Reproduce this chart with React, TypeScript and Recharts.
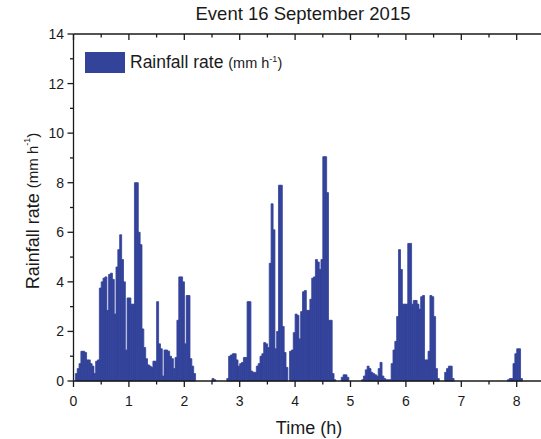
import { BarChart, Bar, XAxis, YAxis, Legend } from 'recharts';

const FONT = '"Liberation Sans", Arial, Helvetica, sans-serif';
const BAR = '#33439a';
const INK = '#1a1a1a';

// rainfall rate (mm h-1) in 2-minute bins, one array per hour of the event
const hour0 = [0, 0.3, 0.5, 0.7, 1.2, 1.2, 1.15, 0.85, 0.85, 0.7, 0.6, 0.3, 0.8, 0.85, 3.75, 4.0, 4.15, 4.2, 2.85, 4.3, 4.35, 4.1, 2.7, 4.6, 5.3, 5.9, 4.9, 4.0, 1.25, 3.35];
const hour1 = [3.35, 3.1, 3.1, 8.0, 8.0, 6.0, 5.5, 2.1, 1.35, 0.9, 0.65, 0.6, 0.55, 0.8, 0.8, 3.2, 1.5, 1.3, 0.2, 1.25, 1.25, 1.2, 1.0, 0.9, 0.5, 0.95, 2.45, 4.2, 4.2, 4.0];
const hour2 = [1.5, 3.45, 3.45, 0.9, 0.6, 0.3, 0, 0, 0, 0, 0, 0, 0, 0, 0, 0.1, 0.05, 0, 0, 0, 0, 0, 0, 0.1, 1.0, 1.05, 1.1, 1.1, 0.85, 0.6];
const hour3 = [0.7, 0.75, 0.95, 0.95, 3.2, 3.2, 0.4, 0.35, 0.35, 0.6, 0.7, 1.0, 1.1, 1.55, 1.5, 1.35, 4.75, 7.15, 6.1, 1.3, 2.0, 7.9, 7.9, 2.2, 1.15, 0.55, 0, 1.2, 1.25, 1.95];
const hour4 = [2.7, 2.65, 1.7, 2.8, 3.6, 3.65, 2.85, 2.85, 3.3, 4.15, 4.2, 4.9, 4.8, 4.5, 4.9, 9.05, 9.05, 7.6, 2.45, 2.45, 0.3, 0.05, 0, 0, 0, 0.15, 0.25, 0.25, 0.15, 0];
const hour5 = [0, 0, 0, 0, 0, 0, 0.05, 0.2, 0.45, 0.6, 0.5, 0.35, 0.3, 0.25, 0.2, 0.5, 0.75, 0.2, 0.1, 0.05, 0.05, 0.05, 0.7, 1.25, 1.6, 2.6, 5.3, 4.5, 3.1, 3.1];
const hour6 = [3.1, 5.55, 5.55, 3.1, 3.25, 3.25, 3.1, 2.9, 3.4, 3.45, 0.85, 0.85, 1.2, 3.45, 3.4, 2.6, 0.5, 0.1, 0, 0, 0, 0.35, 0.5, 0.6, 0.6, 0.1, 0, 0, 0, 0];
const hour7 = [0, 0, 0, 0, 0, 0, 0, 0, 0, 0, 0, 0, 0, 0, 0, 0, 0, 0, 0, 0, 0, 0, 0, 0, 0, 0.05, 0.1, 0.1, 0.7, 1.1];
const hour8 = [1.3, 1.3, 0.1, 0, 0, 0, 0, 0, 0, 0, 0, 0, 0, 0, 0];

const timeTicks = [0, 0.5, 1, 1.5, 2, 2.5, 3, 3.5, 4, 4.5, 5, 5.5, 6, 6.5, 7, 7.5, 8, 8.5];
const rateTicks = [0, 1, 2, 3, 4, 5, 6, 7, 8, 9, 10, 11, 12, 13, 14];

const BINS_PER_HOUR = 30;

// each bin carries its index (for the band axis) and its mid time in hours
const data = [...hour0, ...hour1, ...hour2, ...hour3, ...hour4, ...hour5, ...hour6, ...hour7, ...hour8].map(
  (rate, bin) => ({ bin, hour: (bin + 0.5) / BINS_PER_HOUR, rate })
);

const BottomTick = ({ x, y, payload }: any) => {
  const major = Number.isInteger(payload.value);
  return (
    <g>
      <line x1={x} x2={x} y1={y} y2={y + (major ? 6 : 3.5)} stroke={INK} strokeWidth={1.3} />
      {major && (
        <text x={x} y={y + 25} textAnchor="middle" fontSize={14} fill={INK} fontFamily={FONT}>
          {payload.value}
        </text>
      )}
    </g>
  );
};

const TopTick = ({ x, y, payload }: any) => {
  const major = Number.isInteger(payload.value);
  return <line x1={x} x2={x} y1={y} y2={y + (major ? 6 : 3.5)} stroke={INK} strokeWidth={1.3} />;
};

const LeftTick = ({ x, y, payload }: any) => {
  const major = payload.value % 2 === 0;
  return (
    <g>
      <line x1={x - (major ? 6 : 3.5)} x2={x} y1={y} y2={y} stroke={INK} strokeWidth={1.3} />
      {major && (
        <text x={x - 9.5} y={y + 5} textAnchor="end" fontSize={14} fill={INK} fontFamily={FONT}>
          {payload.value}
        </text>
      )}
    </g>
  );
};

const RightTick = ({ x, y, payload }: any) => {
  const major = payload.value % 2 === 0;
  return <line x1={x - (major ? 6 : 3.5)} x2={x} y1={y} y2={y} stroke={INK} strokeWidth={1.3} />;
};

const YTitle = () => (
  <text
    x={34}
    y={211}
    transform="rotate(-90 34 211)"
    textAnchor="middle"
    fill={INK}
    fontFamily={FONT}
    fontSize={18}
    dominantBaseline="middle"
  >
    Rainfall rate{' '}
    <tspan fontSize={15}>(mm h</tspan>
    <tspan fontSize={9} dy={-6}>-1</tspan>
    <tspan fontSize={15} dy={6}>)</tspan>
  </text>
);

const XTitle = () => (
  <text x={309} y={434} textAnchor="middle" fill={INK} fontFamily={FONT} fontSize={18}>
    Time (h)
  </text>
);

const LegendBox = () => (
  <div style={{ display: 'flex', alignItems: 'center', fontFamily: FONT, color: INK }}>
    <span style={{ width: 40, height: 21, background: BAR, display: 'inline-block' }} />
    <span style={{ marginLeft: 5, fontSize: 17.5, whiteSpace: 'nowrap' }}>
      Rainfall rate{' '}
      <span style={{ fontSize: 14.5 }}>
        (mm h<sup style={{ fontSize: 9 }}>-1</sup>)
      </span>
    </span>
  </div>
);

export default function App() {
  return (
    <div style={{ position: 'absolute', left: 0, top: 0, width: 541, height: 439, overflow: 'hidden', background: '#fff' }}>
      <div
        style={{
          position: 'absolute',
          top: 3,
          left: 0,
          width: 606,
          textAlign: 'center',
          fontFamily: FONT,
          fontSize: 18.5,
          color: INK,
        }}
      >
        Event 16 September 2015
      </div>
      <BarChart
        width={560}
        height={439}
        data={data}
        margin={{ top: 34, right: 15.6, left: 13.5, bottom: 28 }}
        barCategoryGap={0}
        barGap={0}
      >
        <XAxis xAxisId="bins" dataKey="bin" hide height={0} />
        <XAxis
          xAxisId="bottom"
          dataKey="hour"
          type="number"
          domain={[0, 8.5]}
          allowDataOverflow
          ticks={timeTicks}
          interval={0}
          height={30}
          tickSize={0}
          tickMargin={0}
          tickLine={false}
          axisLine={{ stroke: INK, strokeWidth: 1.3 }}
          tick={<BottomTick />}
          label={{ content: <XTitle /> }}
        />
        <XAxis
          xAxisId="top"
          dataKey="hour"
          orientation="top"
          mirror
          type="number"
          domain={[0, 8.5]}
          allowDataOverflow
          ticks={timeTicks}
          interval={0}
          tickSize={0}
          tickMargin={0}
          tickLine={false}
          axisLine={{ stroke: INK, strokeWidth: 1.3 }}
          tick={<TopTick />}
        />
        <YAxis
          yAxisId="left"
          domain={[0, 14]}
          ticks={rateTicks}
          interval={0}
          width={60}
          tickSize={0}
          tickMargin={0}
          tickLine={false}
          axisLine={{ stroke: INK, strokeWidth: 1.3 }}
          tick={<LeftTick />}
          label={{ content: <YTitle /> }}
        />
        <YAxis
          yAxisId="right"
          orientation="right"
          mirror
          domain={[0, 14]}
          ticks={rateTicks}
          interval={0}
          tickSize={0}
          tickMargin={0}
          tickLine={false}
          axisLine={{ stroke: INK, strokeWidth: 1.3 }}
          tick={<RightTick />}
        />
        <Legend
          layout="vertical"
          align="center"
          verticalAlign="middle"
          wrapperStyle={{ left: 85, top: 52, width: 'auto', height: 'auto' }}
          content={<LegendBox />}
        />
        <Bar
          xAxisId="bins"
          yAxisId="left"
          dataKey="rate"
          fill={BAR}
          stroke={BAR}
          strokeWidth={0.8}
          isAnimationActive={false}
        />
      </BarChart>
    </div>
  );
}
